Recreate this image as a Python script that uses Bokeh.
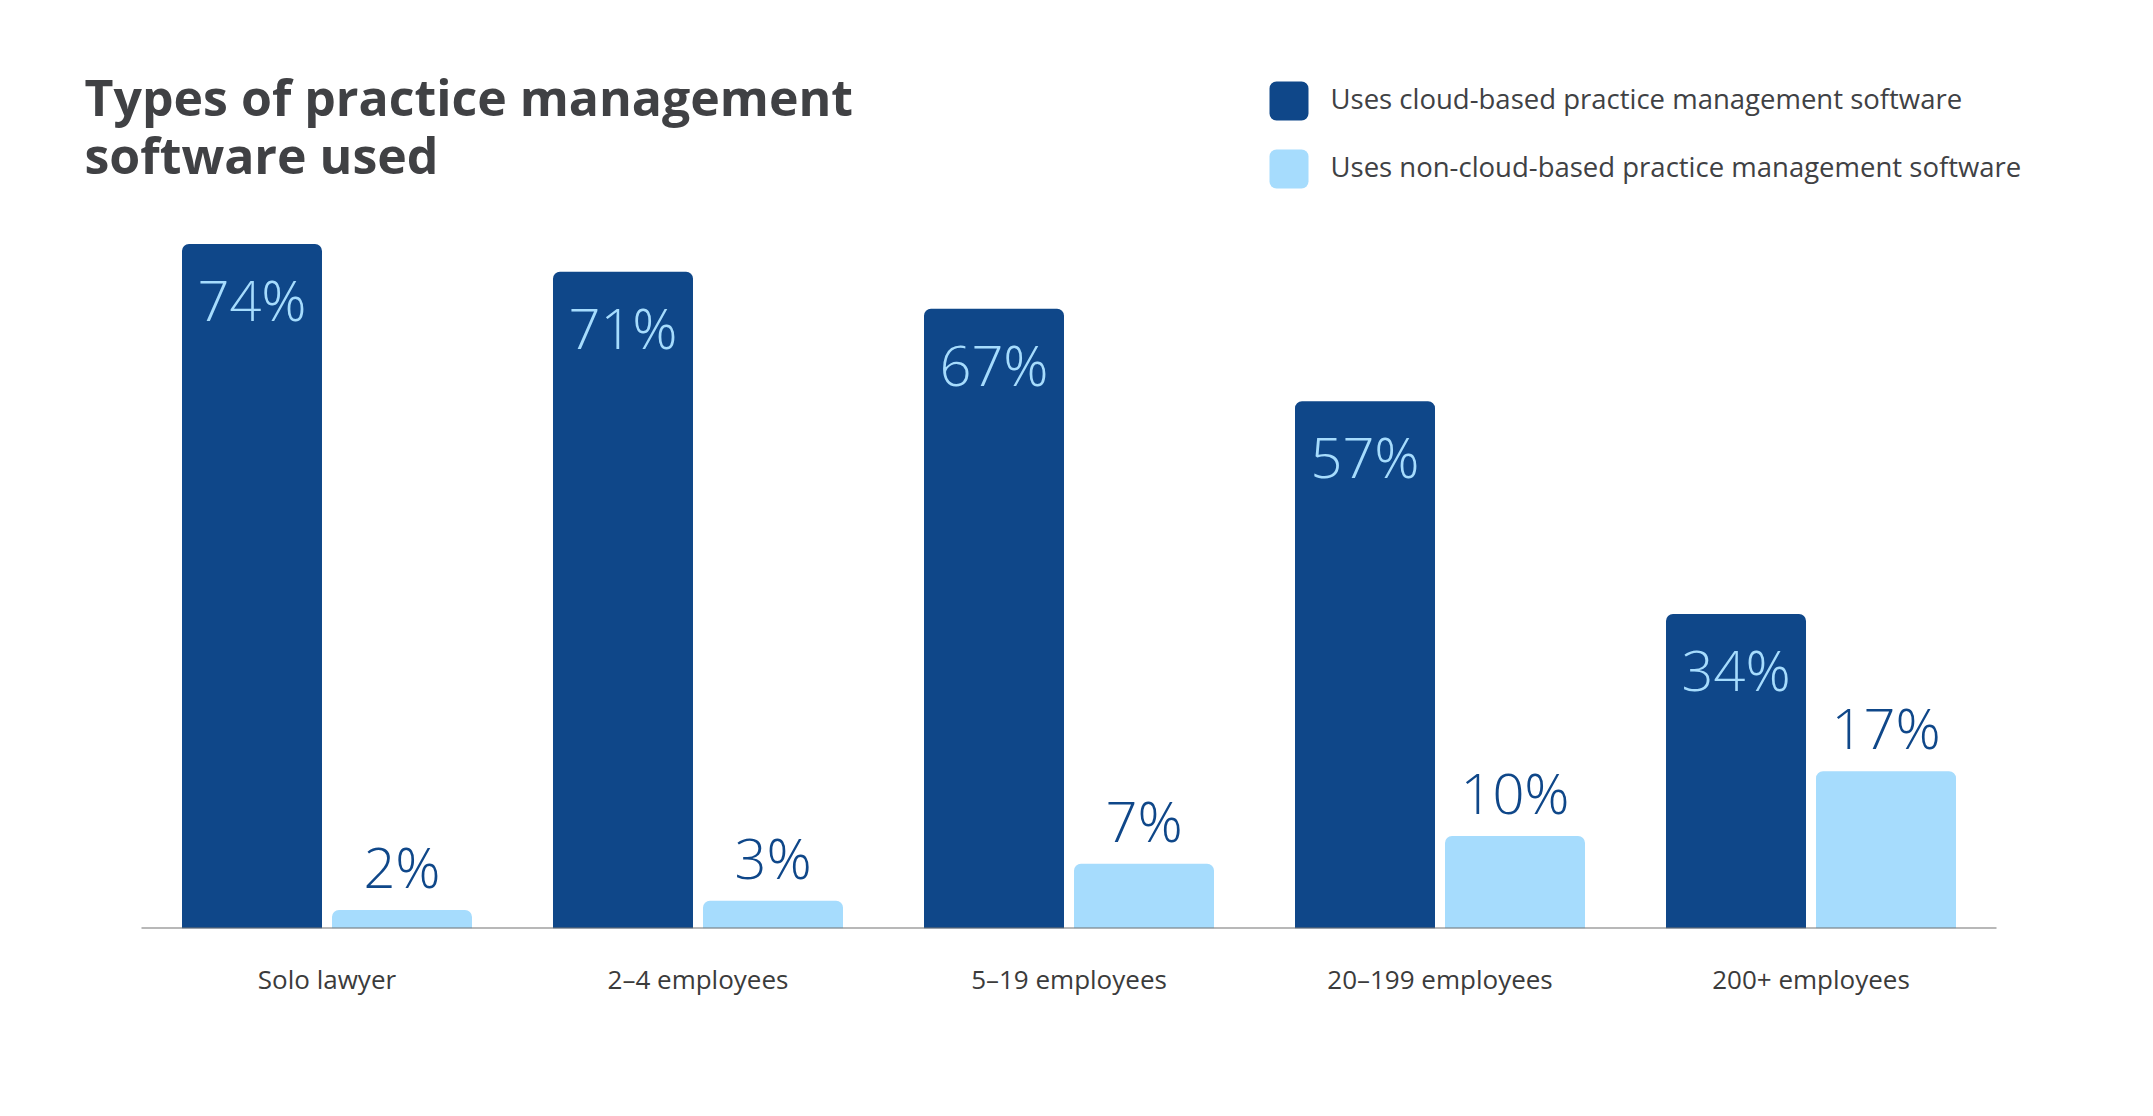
from bokeh.plotting import figure
from bokeh.models import ColumnDataSource, FactorRange, Range1d
from bokeh.transform import dodge
from bokeh.core.properties import value
from bokeh.embed import file_html
from bokeh.resources import INLINE

# ---- data ----
categories = ["Solo lawyer", "2\u20134 employees", "5\u201319 employees", "20\u2013199 employees", "200+ employees"]
cloud = [74, 71, 67, 57, 34]
non_cloud = [2, 3, 7, 10, 17]
series_names = ["Uses cloud-based practice management software",
                "Uses non-cloud-based practice management software"]
title_lines = ["Types of practice management", "software used"]

# ---- style ----
DARK = "#0f4789"
LIGHT = "#a6dcfd"
TEXT = "#404144"
FONT = "Open Sans"
LFONT = "Open Sans Light"

W, H = 2137, 1100
BOTTOM = 172
FRAME_H = H - BOTTOM
PX = 9.25            # pixels per percentage point
PAD = 0.38           # factor range padding (absolute)
XSPAN = 5 + 2 * PAD
K = 0.36             # baseline correction (fraction of font size)

def yd(cy):  # canvas pixel y -> data y
    return (FRAME_H - cy) / PX

def xd(cx):  # canvas pixel x -> synthetic x
    return -PAD + cx * XSPAN / W

OFF = 75 / (W / XSPAN)
BW = 140 / (W / XSPAN)
LBL = 56

src = ColumnDataSource(dict(
    cat=categories,
    cloud=cloud,
    non_cloud=non_cloud,
    cloud_lbl=[f"{v}%" for v in cloud],
    non_lbl=[f"{v}%" for v in non_cloud],
    cloud_y=[v - (75 - K * LBL) / PX for v in cloud],
    non_y=[v + (24 + K * LBL) / PX for v in non_cloud],
))

p = figure(width=W, height=H, output_backend="svg", toolbar_location=None,
           x_range=FactorRange(factors=categories, range_padding=PAD, range_padding_units="absolute"),
           y_range=Range1d(0, FRAME_H / PX),
           min_border_left=0, min_border_right=0, min_border_top=0, min_border_bottom=BOTTOM)
p.outline_line_color = None
p.xgrid.grid_line_color = None
p.ygrid.grid_line_color = None
p.yaxis.visible = False
p.background_fill_color = "white"
p.border_fill_color = "white"

xa = p.xaxis[0]
xa.axis_line_color = None
xa.major_tick_line_color = None
xa.minor_tick_line_color = None
xa.major_label_text_font = FONT
xa.major_label_text_font_size = "26px"
xa.major_label_text_color = "#3b3b3b"
xa.major_label_standoff = 26

p.vbar(x=dodge("cat", -OFF, range=p.x_range), top="cloud", width=BW, bottom=0,
       source=src, fill_color=DARK, line_color=None, border_radius=(7, 7, 0, 0))
p.vbar(x=dodge("cat", OFF, range=p.x_range), top="non_cloud", width=BW, bottom=0,
       source=src, fill_color=LIGHT, line_color=None, border_radius=(7, 7, 0, 0))

# baseline
p.segment(x0=[0], y0=[0], x1=[5], y1=[0], line_color="#737373", line_width=2)

p.text(x=dodge("cat", -OFF, range=p.x_range), y="cloud_y", text="cloud_lbl", source=src,
       text_color=LIGHT, text_font=value(LFONT), text_font_size=f"{LBL}px",
       text_align="center", text_baseline="alphabetic")
p.text(x=dodge("cat", OFF, range=p.x_range), y="non_y", text="non_lbl", source=src,
       text_color=DARK, text_font=value(LFONT), text_font_size=f"{LBL}px",
       text_align="center", text_baseline="alphabetic")

# title
TS = 50
p.text(x=[xd(84)] * 2, y=[yd(114 - K * TS), yd(172 - K * TS)], text=title_lines,
       text_color=TEXT, text_font=value(FONT), text_font_size=f"{TS}px",
       text_font_style="bold", text_align="left", text_baseline="alphabetic")

# legend
LS = 27.5
p.quad(left=[xd(1269)] * 2, right=[xd(1308)] * 2,
       top=[yd(81), yd(149)], bottom=[yd(120), yd(188)],
       fill_color=[DARK, LIGHT], line_color=None, border_radius=7)
p.text(x=[xd(1330)] * 2, y=[yd(108 - K * LS), yd(176 - K * LS)], text=series_names,
       text_color=TEXT, text_font=value(FONT), text_font_size=f"{LS}px",
       text_align="left", text_baseline="alphabetic")

open("out.html", "w").write(file_html(p, INLINE))
